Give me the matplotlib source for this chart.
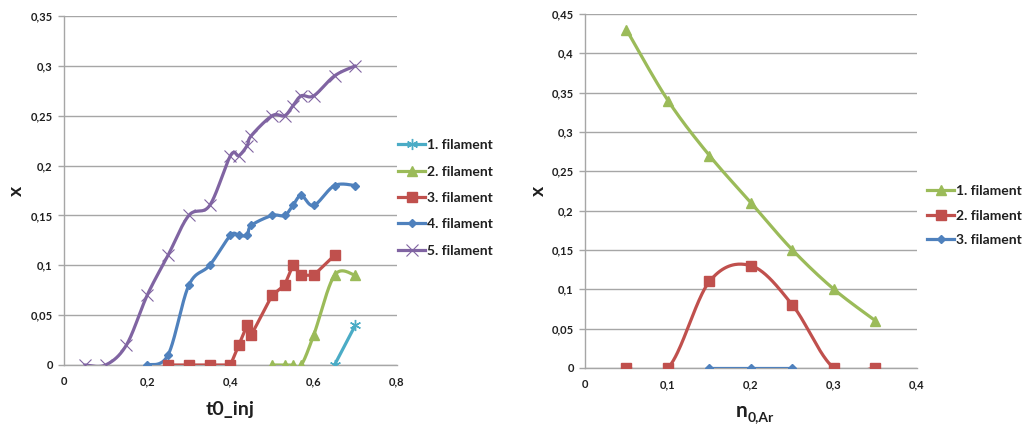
import numpy as np
import matplotlib
matplotlib.use("Agg")
import matplotlib.pyplot as plt
from matplotlib.ticker import FuncFormatter, MultipleLocator

plt.rcParams['font.family'] = ['Lato', 'DejaVu Sans']

# ---------------- data: left chart ----------------
f1_x = [0.65, 0.70]
f1_y = [0.00, 0.04]
f2_x = [0.50, 0.53, 0.55, 0.57, 0.60, 0.65, 0.70]
f2_y = [0.00, 0.00, 0.00, 0.00, 0.03, 0.09, 0.09]
f3_x = [0.25, 0.30, 0.35, 0.40, 0.42, 0.44, 0.45, 0.50, 0.53, 0.55, 0.57, 0.60, 0.65]
f3_y = [0.00, 0.00, 0.00, 0.00, 0.02, 0.04, 0.03, 0.07, 0.08, 0.10, 0.09, 0.09, 0.11]
f4_x = [0.20, 0.25, 0.30, 0.35, 0.40, 0.42, 0.44, 0.45, 0.50, 0.53, 0.55, 0.57, 0.60, 0.65, 0.70]
f4_y = [0.00, 0.01, 0.08, 0.10, 0.13, 0.13, 0.13, 0.14, 0.15, 0.15, 0.16, 0.17, 0.16, 0.18, 0.18]
f5_x = [0.05, 0.10, 0.15, 0.20, 0.25, 0.30, 0.35, 0.40, 0.42, 0.44, 0.45, 0.50, 0.53, 0.55, 0.57, 0.60, 0.65, 0.70]
f5_y = [0.00, 0.00, 0.02, 0.07, 0.11, 0.15, 0.16, 0.21, 0.21, 0.22, 0.23, 0.25, 0.25, 0.26, 0.27, 0.27, 0.29, 0.30]

# ---------------- data: right chart ----------------
r1_x = [0.05, 0.10, 0.15, 0.20, 0.25, 0.30, 0.35]
r1_y = [0.43, 0.34, 0.27, 0.21, 0.15, 0.10, 0.06]
r2_x = [0.05, 0.10, 0.15, 0.20, 0.25, 0.30, 0.35]
r2_y = [0.00, 0.00, 0.11, 0.13, 0.08, 0.00, 0.00]
r3_x = [0.15, 0.20, 0.25]
r3_y = [0.00, 0.00, 0.00]

left_labels = ["1. filament", "2. filament", "3. filament", "4. filament", "5. filament"]
right_labels = ["1. filament", "2. filament", "3. filament"]

C_CYAN = "#4BACC6"
C_GREEN = "#9BBB59"
C_RED = "#C0504D"
C_BLUE = "#4F81BD"
C_PURPLE = "#8064A2"
GRID = "#A6A6A6"
TXT = "#1F1F1F"


def smooth(xs, ys, n=40):
    """Excel-like smoothed line: cubic Bezier with Catmull-Rom control points."""
    P = np.column_stack([xs, ys]).astype(float)
    if len(P) < 3:
        return P[:, 0], P[:, 1]
    out = []
    m = len(P)
    t = np.linspace(0, 1, n)[:, None]
    for i in range(m - 1):
        p0 = P[i - 1] if i > 0 else P[i]
        p1 = P[i]
        p2 = P[i + 1]
        p3 = P[i + 2] if i + 2 < m else P[i + 1]
        c1 = p1 + (p2 - p0) / 6.0
        c2 = p2 - (p3 - p1) / 6.0
        seg = ((1 - t) ** 3) * p1 + 3 * ((1 - t) ** 2) * t * c1 + 3 * (1 - t) * t ** 2 * c2 + t ** 3 * p2
        out.append(seg if i == 0 else seg[1:])
    S = np.vstack(out)
    return S[:, 0], S[:, 1]


def fmt(v, pos):
    s = ("%.2f" % v).rstrip('0').rstrip('.')
    if s in ("", "-0"):
        s = "0"
    return s.replace('.', ',')


def style(ax, xmax, xstep, ymax, ystep):
    ax.set_xlim(0, xmax)
    ax.set_ylim(0, ymax)
    ax.xaxis.set_major_locator(MultipleLocator(xstep))
    ax.yaxis.set_major_locator(MultipleLocator(ystep))
    ax.xaxis.set_major_formatter(FuncFormatter(fmt))
    ax.yaxis.set_major_formatter(FuncFormatter(fmt))
    ax.grid(axis='y', color=GRID, linewidth=1.0)
    ax.set_axisbelow(True)
    for s in ('top', 'right'):
        ax.spines[s].set_visible(False)
    for s in ('left', 'bottom'):
        ax.spines[s].set_color(GRID)
        ax.spines[s].set_linewidth(1.0)
    ax.tick_params(axis='y', colors=GRID, length=4, width=1.0, labelsize=8,
                   labelcolor=TXT, pad=4)
    ax.tick_params(axis='x', colors=GRID, length=0, width=1.0, labelsize=8,
                   labelcolor=TXT, pad=8)
    for lab in ax.get_xticklabels() + ax.get_yticklabels():
        lab.set_fontweight('bold')


def series(ax, xs, ys, color, marker, ms, label, smooth_line=True, mew=1.0, clip_tol=0.0025):
    if smooth_line:
        sx, sy = smooth(xs, ys)
        sy = np.where(sy < -clip_tol, np.nan, sy)
    else:
        sx, sy = xs, ys
    ax.plot(sx, sy, color=color, linewidth=2.3, solid_capstyle='round', zorder=3)
    ax.plot(xs, ys, linestyle='none', marker=marker, color=color, markersize=ms,
            markeredgewidth=mew, zorder=4)
    ax.plot([], [], color=color, linewidth=2.3, marker=marker, markersize=ms,
            markeredgewidth=mew, label=label)


fig = plt.figure(figsize=(10.25, 4.26), dpi=100)

# ---------------- left chart ----------------
ax1 = fig.add_axes([0.0624, 0.1432, 0.3249, 0.8192])
style(ax1, 0.8, 0.2, 0.35, 0.05)
series(ax1, f1_x, f1_y, C_CYAN, (6, 2, 0), 8, left_labels[0], smooth_line=False)
series(ax1, f2_x, f2_y, C_GREEN, '^', 6.5, left_labels[1])
series(ax1, f3_x, f3_y, C_RED, 's', 6.5, left_labels[2], smooth_line=False)
series(ax1, f4_x, f4_y, C_BLUE, 'D', 4.5, left_labels[3])
series(ax1, f5_x, f5_y, C_PURPLE, 'x', 8, left_labels[4], mew=0.8)
ax1.set_xlabel("t0_inj", fontsize=14, fontweight='bold', color=TXT)
ax1.xaxis.set_label_coords(0.5, -0.103)
ax1.set_ylabel("x", fontsize=14, fontweight='bold', color=TXT)
ax1.yaxis.set_label_coords(-0.117, 0.5)
ax1.legend(loc='upper left', bbox_to_anchor=(0.383, 0.686), bbox_transform=fig.transFigure,
           frameon=False, prop={'weight': 'bold', 'size': 10}, handlelength=1.95,
           handletextpad=0.15, labelspacing=1.03, borderaxespad=0, labelcolor=TXT)

# ---------------- right chart ----------------
ax2 = fig.add_axes([0.5707, 0.1362, 0.3239, 0.831])
style(ax2, 0.4, 0.1, 0.45, 0.05)
series(ax2, r1_x, r1_y, C_GREEN, '^', 6.5, right_labels[0])
series(ax2, r2_x, r2_y, C_RED, 's', 6.5, right_labels[1])
series(ax2, r3_x, r3_y, C_BLUE, 'D', 4.5, right_labels[2])
# x label "n" with subscript "0,Ar"
ax2.text(0.489, -0.138, "n", transform=ax2.transAxes, fontsize=15, fontweight='bold',
         color=TXT, ha='right', va='baseline')
ax2.text(0.491, -0.150, "0,Ar", transform=ax2.transAxes, fontsize=10, fontweight='bold',
         color=TXT, ha='left', va='baseline')
ax2.set_ylabel("x", fontsize=14, fontweight='bold', color=TXT)
ax2.yaxis.set_label_coords(-0.115, 0.5)
ax2.legend(loc='upper left', bbox_to_anchor=(0.899, 0.578), bbox_transform=fig.transFigure,
           frameon=False, prop={'weight': 'bold', 'size': 10}, handlelength=1.95,
           handletextpad=0.15, labelspacing=0.88, borderaxespad=0, labelcolor=TXT)

fig.savefig("out.png", dpi=100, facecolor='white')
